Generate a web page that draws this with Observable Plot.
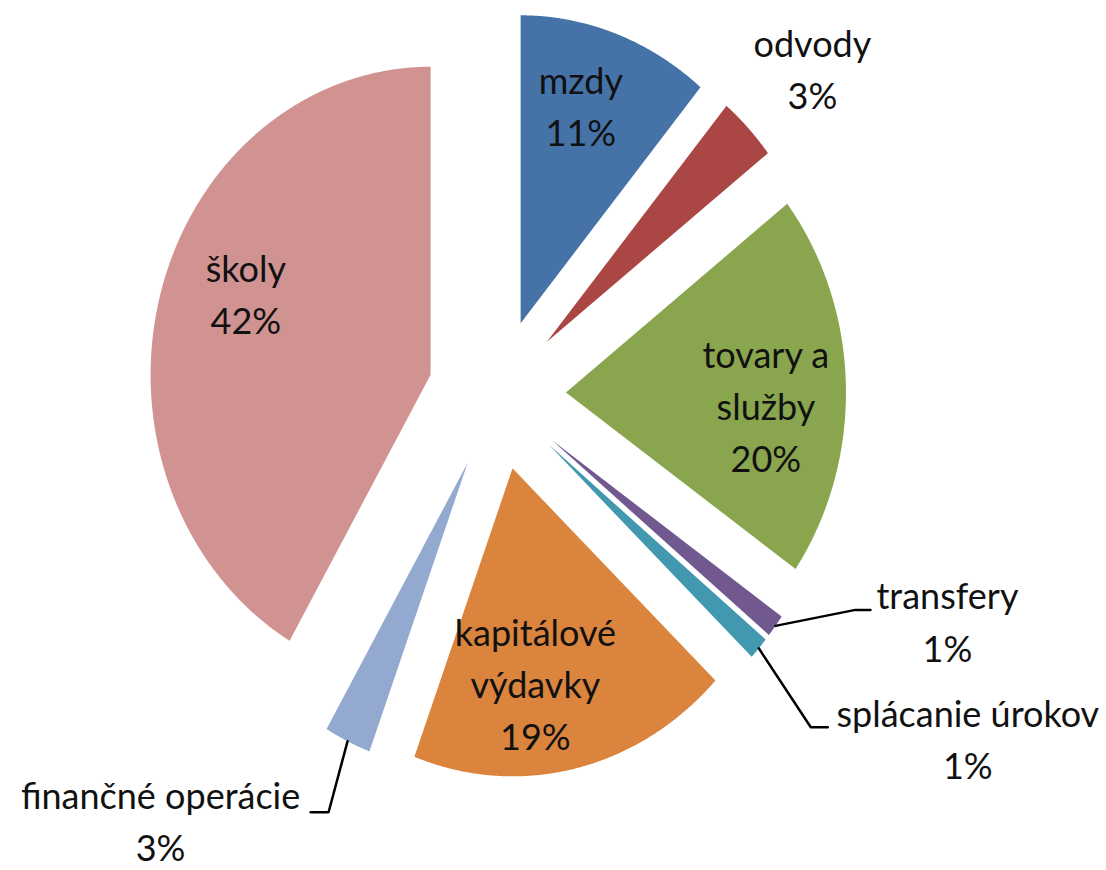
<!DOCTYPE html>
<html>
<head>
<meta charset="utf-8">
<script src="https://cdn.jsdelivr.net/npm/d3@7"></script>
<script src="https://cdn.jsdelivr.net/npm/@observablehq/plot@0.6"></script>
<style>
  html, body { margin: 0; padding: 0; background: #fff; }
  #chart svg { display: block; }
</style>
</head>
<body>
<div id="chart"></div>
<script>
// ---- data ----
const names = ["mzdy", "odvody", "tovary a služby", "transfery", "splácanie úrokov", "kapitálové výdavky", "finančné operácie", "školy"];
const labelNames = ["mzdy", "odvody", "tovary a\nslužby", "transfery", "splácanie úrokov", "kapitálové\nvýdavky", "finančné operácie", "školy"];
const shares = [11.1, 3.4, 20.2, 1.2, 1.2, 18.6, 2.7, 41.6];
const colors = ["#4572A7", "#AA4643", "#89A54E", "#71588F", "#4198AF", "#DB843D", "#93A9CF", "#D19392"];

// ---- layout (pixels) ----
const W = 1106, H = 870;
const cx = 496.6, cy = 394;      // pie centre
const rx = 280, ry = 308;        // radius in px (the original chart is stretched vertically)
const explode = 0.246;           // explosion, fraction of radius
const FONT = "Lato, 'Open Sans', sans-serif";
// label placement: inside labels relative to (apex + 0.65*radius), outside labels relative to arc midpoint
const labelPlace = {
  "mzdy": {inside: true, dx: -2, dy: -25},
  "odvody": {inside: false, dx: 64, dy: -55},
  "tovary a služby": {inside: true, dx: 18, dy: 23},
  "transfery": {inside: false, dx: 172, dy: 0, leader: [[80, -16], [95, -16]]},
  "splácanie úrokov": {inside: false, dx: 209, dy: 95, leader: [[52, 79], [69, 79]]},
  "kapitálové výdavky": {inside: true, dx: -18, dy: 25},
  "finančné operácie": {inside: false, dx: -187, dy: 84, leader: [[-19, 71], [-37, 71]]},
  "školy": {inside: true, dx: -9, dy: -24}
};

const total = d3.sum(shares);
const starts = d3.cumsum([0, ...shares]).map(v => v / total * 2 * Math.PI);
const px2x = d => d / rx, px2y = d => -d / ry;

const slices = names.map((name, i) => {
  const t0 = starts[i], t1 = starts[i + 1], tm = (t0 + t1) / 2;
  const ax = explode * Math.sin(tm), ay = explode * Math.cos(tm);
  const pts = [{x: ax, y: ay}];
  const n = Math.max(4, Math.ceil((t1 - t0) / 0.004));
  for (let k = 0; k <= n; k++) {
    const t = t0 + (t1 - t0) * k / n;
    pts.push({x: ax + Math.sin(t), y: ay + Math.cos(t)});
  }
  const place = labelPlace[name];
  const base = place.inside
    ? {x: ax + 0.65 * Math.sin(tm), y: ay + 0.65 * Math.cos(tm)}
    : {x: ax + Math.sin(tm), y: ay + Math.cos(tm)};
  const label = {
    x: base.x + px2x(place.dx),
    y: base.y + px2y(place.dy),
    text: labelNames[i] + "\n" + Math.round(shares[i] / total * 100) + "%"
  };
  let leader = null;
  if (place.leader) {
    leader = [{x: base.x, y: base.y}, ...place.leader.map(([dx, dy]) => ({x: base.x + px2x(dx), y: base.y + px2y(dy)}))];
  }
  return {name, color: colors[i], pts, label, leader};
});

const marks = [];
for (const s of slices) {
  marks.push(Plot.line(s.pts, {x: "x", y: "y", fill: s.color, stroke: "none", curve: "linear-closed"}));
}
for (const s of slices) {
  if (s.leader) marks.push(Plot.line(s.leader, {x: "x", y: "y", stroke: "#000", strokeWidth: 2.5, strokeLinejoin: "miter"}));
}
marks.push(Plot.text(slices.map(s => s.label), {
  x: "x", y: "y", text: "text", fontSize: 36, lineHeight: 1.45, dy: -7, fill: "#111", textAnchor: "middle", fontFamily: FONT
}));

const chart = Plot.plot({
  width: W, height: H,
  marginTop: 0, marginRight: 0, marginBottom: 0, marginLeft: 0,
  x: {domain: [-cx / rx, (W - cx) / rx], axis: null},
  y: {domain: [-(H - cy) / ry, cy / ry], axis: null},
  style: {background: "#fff", fontFamily: FONT},
  marks
});
document.getElementById("chart").appendChild(chart);
</script>
</body>
</html>
